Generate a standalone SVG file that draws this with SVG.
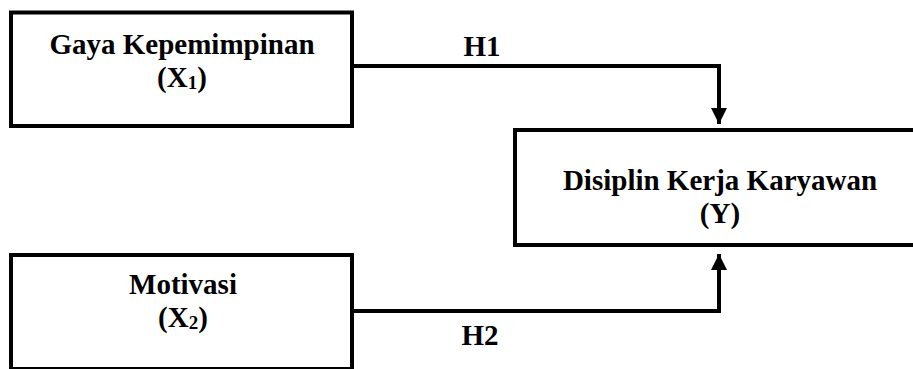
<svg xmlns="http://www.w3.org/2000/svg" width="913" height="369" viewBox="0 0 913 369">
  <style>
    .box { fill: #ffffff; stroke: #000000; stroke-width: 4; }
    .label { font-family: 'Liberation Serif', 'Times New Roman', serif; font-weight: bold; font-size: 29px; fill: #000000; text-anchor: middle; }
    .sub { font-size: 19px; }
    .wire { fill: none; stroke: #000000; stroke-width: 4; }
  </style>
  <defs>
    <marker id="arrowhead" viewBox="0 0 10 10" refX="10" refY="5" markerWidth="4" markerHeight="4" markerUnits="strokeWidth" orient="auto">
      <path d="M0,0 L10,5 L0,10 Z" fill="#000000"/>
    </marker>
  </defs>
  <rect width="913" height="369" fill="#ffffff"/>

  <g id="connectors">
    <path class="wire" d="M352,66 H719 V124" marker-end="url(#arrowhead)"/>
    <path class="wire" d="M352,311 H719 V254" marker-end="url(#arrowhead)"/>
    <text class="label" x="482" y="56">H1</text>
    <text class="label" x="480" y="345">H2</text>
  </g>

  <g id="gaya-kepemimpinan">
    <rect class="box" x="11" y="12.5" width="341" height="113.5"/>
    <text class="label" x="182" y="54">Gaya Kepemimpinan</text>
    <text class="label" x="182" y="87">(X<tspan class="sub" dy="2">1</tspan><tspan dy="-2">)</tspan></text>
  </g>

  <g id="motivasi">
    <rect class="box" x="11" y="255" width="341" height="114"/>
    <text class="label" x="183" y="294">Motivasi</text>
    <text class="label" x="183" y="327">(X<tspan class="sub" dy="2">2</tspan><tspan dy="-2">)</tspan></text>
  </g>

  <g id="disiplin-kerja">
    <rect class="box" x="515" y="130" width="420" height="115"/>
    <text class="label" x="720" y="190">Disiplin Kerja Karyawan</text>
    <text class="label" x="720" y="223">(Y)</text>
  </g>
</svg>
